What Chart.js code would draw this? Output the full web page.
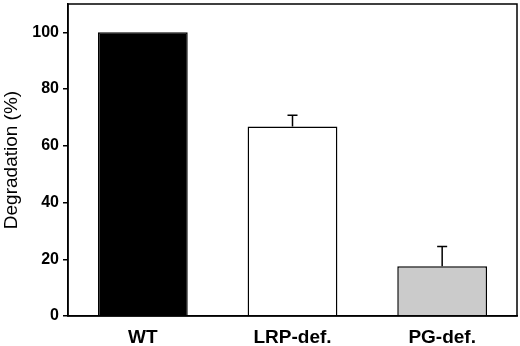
<!DOCTYPE html>
<html>
<head>
<meta charset="utf-8">
<script src="https://cdn.jsdelivr.net/npm/chart.js@4.4.1/dist/chart.umd.min.js"></script>
<style>
  html, body { margin: 0; padding: 0; background: #fff; }
  #wrap { width: 520px; height: 346px; }
</style>
</head>
<body>
<div id="wrap"><canvas id="myChart" width="520" height="346"></canvas></div>
<script>
// data
const groups = ["WT", "LRP-def.", "PG-def."];
const degradation = [100, 66.8, 17.5];
const errors = [0, 4.0, 7.0];
const barColors = ["#000000", "#ffffff", "#cbcbcb"];
const yTicks = [0, 20, 40, 60, 80, 100];

// frame around the plot area plus the upward error bars
const framePlugin = {
  id: "frame",
  afterDatasetsDraw(chart) {
    const ctx = chart.ctx;
    const area = chart.chartArea;
    const yScale = chart.scales.y;
    const meta = chart.getDatasetMeta(0);

    ctx.save();
    ctx.strokeStyle = "#000";
    ctx.lineWidth = 1.5;

    meta.data.forEach((bar, i) => {
      if (!errors[i]) return;
      const top = yScale.getPixelForValue(degradation[i] + errors[i]);
      ctx.beginPath();
      ctx.moveTo(bar.x, bar.y);
      ctx.lineTo(bar.x, top);
      ctx.moveTo(bar.x - 5, top);
      ctx.lineTo(bar.x + 5, top);
      ctx.stroke();
    });

    ctx.strokeRect(area.left, area.top, area.right - area.left, area.bottom - area.top);
    ctx.restore();
  },
};

const chart = new Chart(document.getElementById("myChart").getContext("2d"), {
  type: "bar",
  data: {
    labels: groups,
    datasets: [
      {
        data: degradation,
        backgroundColor: barColors,
        borderColor: "#000",
        borderWidth: 1.5,
        barPercentage: 0.6,
        categoryPercentage: 1.0,
      },
    ],
  },
  options: {
    responsive: false,
    animation: false,
    layout: { padding: { top: 4, right: 3, left: 0, bottom: 0 } },
    plugins: {
      legend: { display: false },
      tooltip: { enabled: false },
    },
    scales: {
      x: {
        grid: { display: false },
        border: { display: true, color: "#000", width: 1.5 },
        ticks: {
          color: "#000",
          padding: 2,
          font: { family: "Liberation Sans, Arial, sans-serif", size: 19, weight: "bold" },
        },
        afterFit: (scale) => {
          scale.height = 30;
          scale.paddingLeft = 0;
          scale.paddingRight = 0;
        },
      },
      y: {
        min: 0,
        max: 110,
        grid: { display: true, drawOnChartArea: false, color: "#000", tickLength: 5, lineWidth: 1.5 },
        border: { display: true, color: "#000", width: 1.5 },
        ticks: {
          stepSize: 20,
          color: "#000",
          padding: 4,
          font: { family: "Liberation Sans, Arial, sans-serif", size: 16, weight: "bold" },
        },
        afterBuildTicks: (scale) => {
          scale.ticks = yTicks.map((v) => ({ value: v }));
        },
        title: {
          display: true,
          text: "Degradation (%)",
          color: "#000",
          padding: { top: 0, bottom: 0 },
          font: { family: "Liberation Sans, Arial, sans-serif", size: 19 },
        },
        afterFit: (scale) => {
          scale.width = 68;
          scale.paddingTop = 0;
          scale.paddingBottom = 0;
        },
      },
    },
  },
  plugins: [framePlugin],
});
</script>
</body>
</html>
